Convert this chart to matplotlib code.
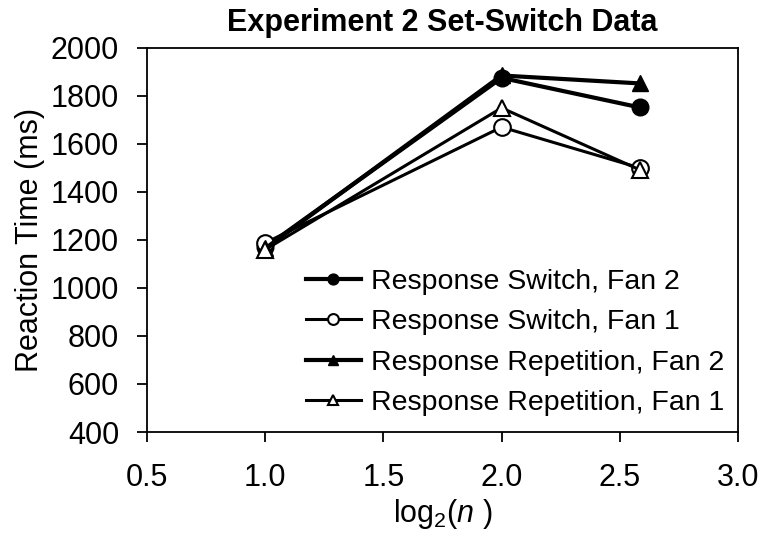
import matplotlib
matplotlib.use("Agg")
import matplotlib.pyplot as plt

plt.rcParams['font.family'] = ['Liberation Sans', 'DejaVu Sans']
plt.rcParams['mathtext.fontset'] = 'custom'
plt.rcParams['mathtext.rm'] = 'Liberation Sans'
plt.rcParams['mathtext.it'] = 'Liberation Sans:italic'

x_vals = [1.0, 2.0, 2.585]
switch_fan2 = [1170, 1875, 1752]
switch_fan1 = [1188, 1670, 1500]
rep_fan2 = [1165, 1885, 1852]
rep_fan1 = [1160, 1750, 1492]
labels = ["Response Switch, Fan 2", "Response Switch, Fan 1",
          "Response Repetition, Fan 2", "Response Repetition, Fan 1"]
x_ticks = [0.5, 1.0, 1.5, 2.0, 2.5, 3.0]
y_ticks = [400, 600, 800, 1000, 1200, 1400, 1600, 1800, 2000]

fig = plt.figure(figsize=(7.63, 5.38), dpi=100)
ax = fig.add_axes([0.193, 0.197, 0.774, 0.714])

ax.plot(x_vals, switch_fan2, color='black', lw=3.0, marker='o', ms=12,
        mfc='black', mec='black', label=labels[0])
ax.plot(x_vals, switch_fan1, color='black', lw=2.2, marker='o', ms=12,
        mfc='white', mec='black', mew=1.5, label=labels[1])
ax.plot(x_vals, rep_fan2, color='black', lw=3.0, marker='^', ms=12,
        mfc='black', mec='black', label=labels[2])
ax.plot(x_vals, rep_fan1, color='black', lw=2.2, marker='^', ms=12,
        mfc='white', mec='black', mew=1.5, label=labels[3])

ax.set_xlim(0.5, 3.0)
ax.set_ylim(400, 2000)
ax.set_xticks(x_ticks)
ax.set_xticklabels([f"{v:.1f}" for v in x_ticks])
ax.set_yticks(y_ticks)
ax.tick_params(axis='both', direction='out', length=7.2, width=1.3,
               labelsize=22)
ax.tick_params(axis='y', pad=13)
ax.tick_params(axis='x', pad=15)
for s in ax.spines.values():
    s.set_linewidth(1.3)

ax.set_xlabel(r"log$_2$($\mathit{n}$ )", fontsize=22, labelpad=3)
ax.set_ylabel("Reaction Time (ms)", fontsize=22, labelpad=4)
ax.set_title("Experiment 2 Set-Switch Data", fontsize=22, fontweight='bold', pad=12)

leg = ax.legend(loc='center left', bbox_to_anchor=(0.249, 0.233), frameon=False,
                fontsize=20.5, handlelength=1.95, labelspacing=0.5,
                handletextpad=0.35, borderaxespad=0, markerscale=0.65)

fig.savefig("out.png", dpi=100)
